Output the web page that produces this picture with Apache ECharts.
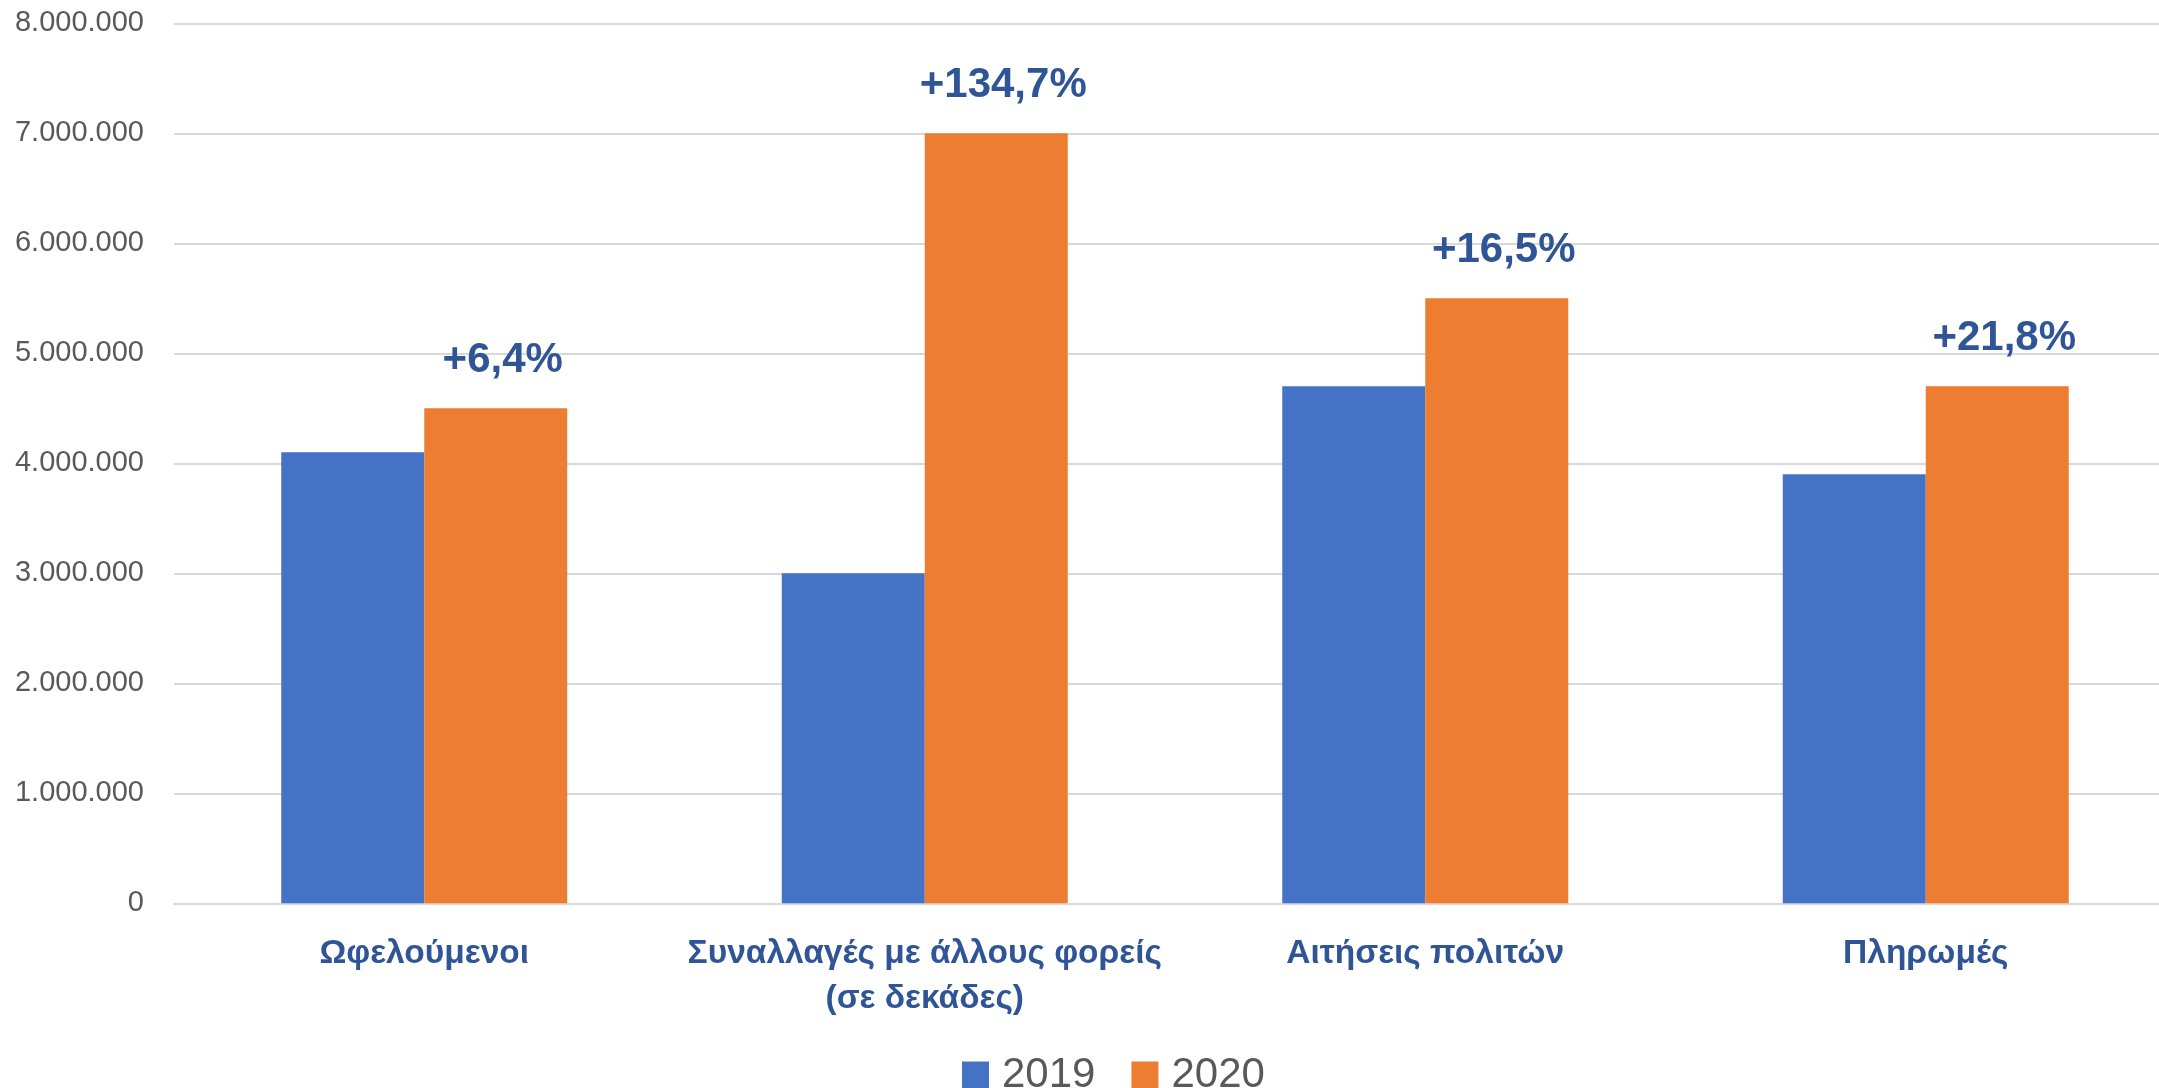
<!DOCTYPE html>
<html>
<head>
<meta charset="utf-8">
<script src="https://cdn.jsdelivr.net/npm/echarts@6/dist/echarts.min.js"></script>
<style>
html,body{margin:0;padding:0;background:#fff;}
#chart{width:2159px;height:1088px;}
</style>
</head>
<body>
<div id="chart"></div>
<script>
const categories = ['Ωφελούμενοι', 'Συναλλαγές με άλλους φορείς\n(σε δεκάδες)', 'Αιτήσεις πολιτών', 'Πληρωμές'];
const values2019 = [4100000, 3000000, 4700000, 3900000];
const values2020 = [4500000, 7000000, 5500000, 4700000];
const changeLabels = ['+6,4%', '+134,7%', '+16,5%', '+21,8%'];
const seriesNames = ['2019', '2020'];

function fmt(v) {
  return String(v).replace(/\B(?=(\d{3})+(?!\d))/g, '.');
}

const chart = echarts.init(document.getElementById('chart'));
chart.setOption({
  animation: false,
  textStyle: { fontFamily: 'Liberation Sans' },
  grid: { left: 174, top: 23.3, right: -17, bottom: 184.7, outerBoundsMode: 'none', containLabel: false },
  legend: {
    data: seriesNames,
    left: 957,
    top: 1049,
    itemWidth: 27,
    itemHeight: 27,
    itemGap: 36,
    icon: 'rect',
    textStyle: { fontSize: 42, color: '#595959', fontFamily: 'Liberation Sans', padding: [0, 0, 0, 8] }
  },
  xAxis: {
    type: 'category',
    data: categories,
    axisLine: { show: true, lineStyle: { color: '#d9d9d9', width: 2 } },
    axisTick: { show: false },
    axisLabel: {
      interval: 0,
      margin: 28,
      fontSize: 33.5,
      fontWeight: 'bold',
      color: '#2F5597',
      lineHeight: 45,
      fontFamily: 'Liberation Sans'
    }
  },
  yAxis: {
    type: 'value',
    min: 0,
    max: 8000000,
    interval: 1000000,
    axisLine: { show: false },
    axisTick: { show: false },
    splitLine: { lineStyle: { color: '#d9d9d9', width: 2 } },
    axisLabel: {
      margin: 30,
      fontSize: 29,
      color: '#595959',
      fontFamily: 'Liberation Sans',
      formatter: fmt
    }
  },
  series: [
    {
      name: seriesNames[0],
      type: 'bar',
      data: values2019,
      barWidth: 143,
      barGap: '0%',
      itemStyle: { color: '#4472C4' }
    },
    {
      name: seriesNames[1],
      type: 'bar',
      data: values2020,
      barWidth: 143,
      barGap: '0%',
      itemStyle: { color: '#ED7D31' },
      label: {
        show: true,
        position: 'top',
        distance: 27,
        offset: [7, 0],
        fontSize: 42,
        fontWeight: 'bold',
        color: '#2F5597',
        fontFamily: 'Liberation Sans',
        formatter: p => changeLabels[p.dataIndex]
      }
    }
  ]
});
</script>
</body>
</html>
